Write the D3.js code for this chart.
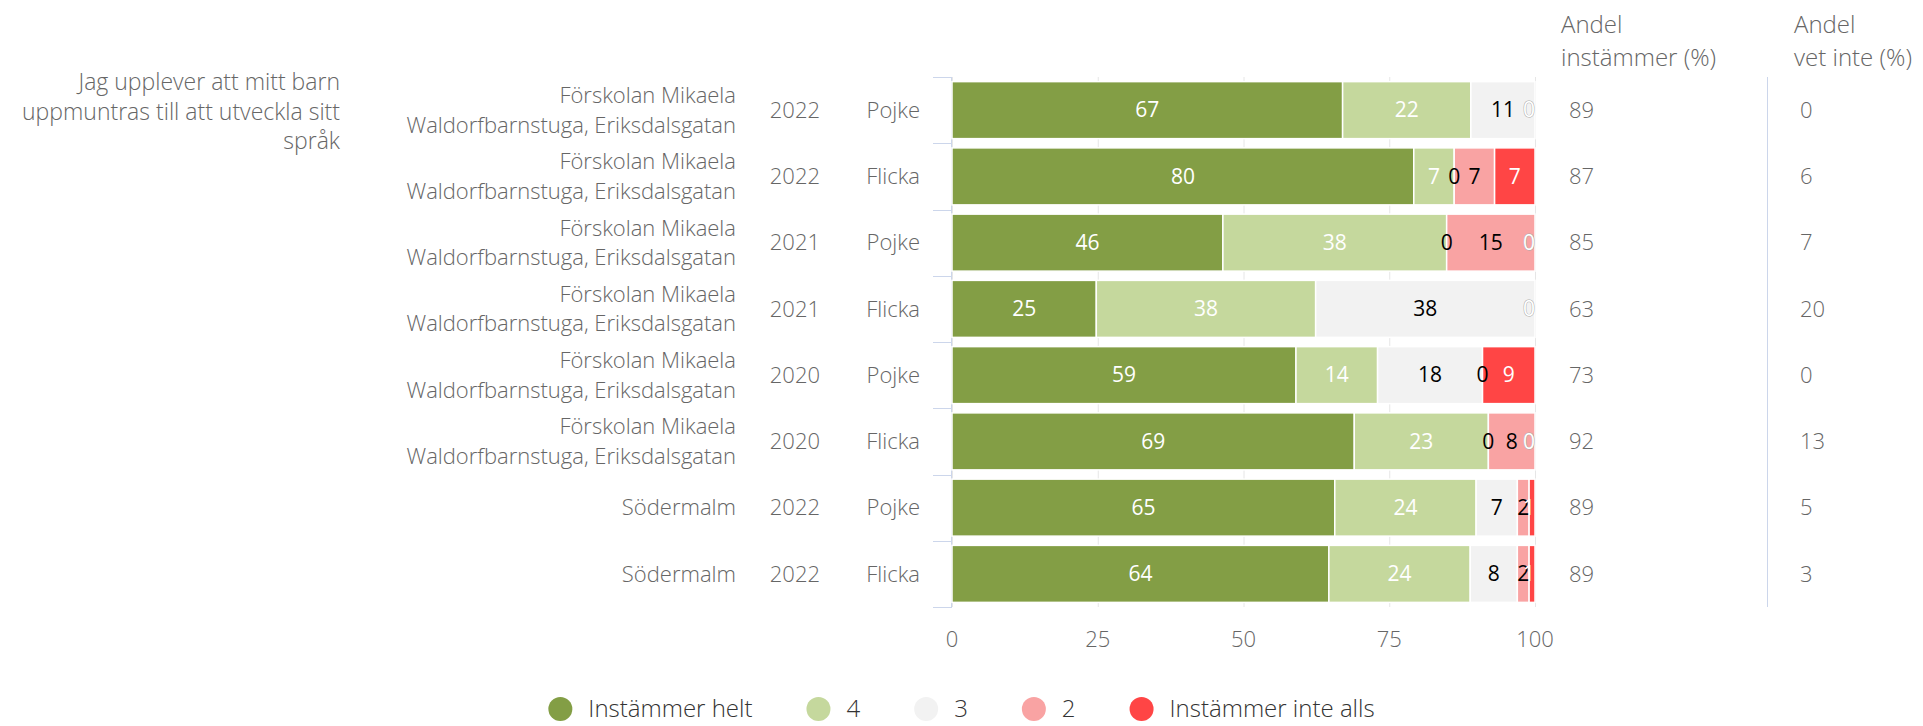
<!DOCTYPE html>
<html>
<head>
<meta charset="utf-8">
<script src="https://cdn.jsdelivr.net/npm/d3@7"></script>
<style>
  html, body { margin: 0; padding: 0; background: #fff; }
  svg { display: block; font-family: "Open Sans", Lato, sans-serif; font-weight: 300; }
</style>
</head>
<body>
<svg id="chart" width="1923" height="726"></svg>
<script>
// question + row labels
const question = ['Jag upplever att mitt barn', 'uppmuntras till att utveckla sitt', 'språk'];
const schools = [
  'Förskolan Mikaela\nWaldorfbarnstuga, Eriksdalsgatan',
  'Förskolan Mikaela\nWaldorfbarnstuga, Eriksdalsgatan',
  'Förskolan Mikaela\nWaldorfbarnstuga, Eriksdalsgatan',
  'Förskolan Mikaela\nWaldorfbarnstuga, Eriksdalsgatan',
  'Förskolan Mikaela\nWaldorfbarnstuga, Eriksdalsgatan',
  'Förskolan Mikaela\nWaldorfbarnstuga, Eriksdalsgatan',
  'Södermalm',
  'Södermalm'
];
const years = ['2022', '2022', '2021', '2021', '2020', '2020', '2022', '2022'];
const genders = ['Pojke', 'Flicka', 'Pojke', 'Flicka', 'Pojke', 'Flicka', 'Pojke', 'Flicka'];

// series (percent)
const seriesNames = ['Instämmer helt', '4', '3', '2', 'Instämmer inte alls'];
const seriesColors = ['#839e45', '#c5d89d', '#f2f2f2', '#f9a3a3', '#ff4545'];
const labelColors = ['#ffffff', '#ffffff', '#000000', '#000000', '#ffffff'];
const instammerHelt = [67, 80, 46, 25, 59, 69, 65, 64];
const fyra = [22, 7, 38, 38, 14, 23, 24, 24];
const tre = [11, 0, 0, 38, 18, 0, 7, 8];
const tva = [0, 7, 15, 0, 0, 8, 2, 2];
const instammerInteAlls = [0, 7, 0, 0, 9, 0, 1, 1];

// extra columns
const andelInstammer = [89, 87, 85, 63, 73, 92, 89, 89];
const andelVetInte = [0, 6, 7, 20, 0, 13, 5, 3];

const xTicks = [0, 25, 50, 75, 100];

const seriesValues = [instammerHelt, fyra, tre, tva, instammerInteAlls];
const rows = years.map((y, i) => {
  const r = { idx: i };
  seriesNames.forEach((s, k) => { r[s] = seriesValues[k][i]; });
  return r;
});

const svg = d3.select('#chart');
const margin = { top: 77, left: 952, right: 1923 - 1535, bottom: 726 - 607 };
const plotW = 1923 - margin.left - margin.right;
const plotH = 726 - margin.top - margin.bottom;

const x = d3.scaleLinear().domain([0, 1]).range([margin.left, margin.left + plotW]);
const y = d3.scaleBand().domain(d3.range(rows.length)).range([margin.top, margin.top + plotH]).padding(0);
const barH = 57;
const barOff = (y.bandwidth() - barH) / 2;

const stack = d3.stack().keys(seriesNames).offset(d3.stackOffsetExpand);
const stacked = stack(rows);

const grey = '#666666';
const fs = 22;

// gridlines
svg.append('g').attr('class', 'grid')
  .selectAll('line')
  .data(xTicks)
  .join('line')
  .attr('x1', d => x(d / 100) + 0.5)
  .attr('x2', d => x(d / 100) + 0.5)
  .attr('y1', margin.top)
  .attr('y2', margin.top + plotH)
  .attr('stroke', '#e6e6e6')
  .attr('stroke-width', 1);

// left axis line + ticks on band edges
const bounds = y.domain().map(d => y(d)).concat([margin.top + plotH]);
const yAxis = svg.append('g').attr('class', 'yAxis');
yAxis.append('line')
  .attr('x1', margin.left - 0.5).attr('x2', margin.left - 0.5)
  .attr('y1', margin.top).attr('y2', margin.top + plotH)
  .attr('stroke', '#ccd6eb');
yAxis.selectAll('line.tick')
  .data(bounds)
  .join('line')
  .attr('class', 'tick')
  .attr('x1', margin.left - 19).attr('x2', margin.left)
  .attr('y1', d => Math.round(d) + 0.5).attr('y2', d => Math.round(d) + 0.5)
  .attr('stroke', '#ccd6eb');

// bars
const layers = svg.append('g').attr('class', 'bars')
  .selectAll('g')
  .data(stacked)
  .join('g')
  .attr('fill', (d, i) => seriesColors[i]);

layers.selectAll('rect')
  .data(d => d)
  .join('rect')
  .attr('x', d => x(d[0]))
  .attr('y', d => y(d.data.idx) + barOff)
  .attr('width', d => Math.max(0, x(d[1]) - x(d[0])))
  .attr('height', barH)
  .attr('stroke', '#ffffff')
  .attr('stroke-width', 1.5);

// data labels (hide a label sitting on top of a later series label)
const labels = [];
stacked.forEach((layer, k) => {
  layer.forEach(d => {
    labels.push({ k, row: d.data.idx, value: d.data[seriesNames[k]], cx: (x(d[0]) + x(d[1])) / 2 });
  });
});
labels.forEach(l => {
  l.hidden = labels.some(o => o.row === l.row && o.k > l.k && Math.abs(o.cx - l.cx) < 8);
});

svg.append('g').attr('class', 'dataLabels')
  .selectAll('text')
  .data(labels.filter(l => !l.hidden))
  .join('text')
  .attr('x', d => Math.min(d.cx, margin.left + plotW - 6))
  .attr('y', d => y(d.row) + y.bandwidth() / 2)
  .attr('dy', '0.35em')
  .attr('text-anchor', 'middle')
  .attr('font-size', 21)
  .attr('font-weight', 400)
  .attr('fill', d => labelColors[d.k])
  .attr('stroke', d => (d.value === 0 && labelColors[d.k] === '#ffffff') ? '#aaaaaa' : 'none')
  .attr('stroke-width', 1)
  .attr('paint-order', 'stroke')
  .text(d => d.value);

// x axis labels
svg.append('g').attr('class', 'xAxis')
  .selectAll('text')
  .data(xTicks)
  .join('text')
  .attr('x', d => x(d / 100))
  .attr('y', 639)
  .attr('dy', '0.35em')
  .attr('text-anchor', 'middle')
  .attr('font-size', fs)
  .attr('fill', grey)
  .text(d => d);

// question text
svg.append('g').attr('class', 'question')
  .selectAll('text')
  .data(question)
  .join('text')
  .attr('x', 340)
  .attr('y', (d, i) => 82 + i * 29.5)
  .attr('dy', '0.35em')
  .attr('text-anchor', 'end')
  .attr('font-size', 23)
  .attr('fill', grey)
  .text(d => d);

// row category labels
const cats = svg.append('g').attr('class', 'categories');
schools.forEach((s, i) => {
  const lines = s.split('\n');
  const cy = y(i) + y.bandwidth() / 2;
  lines.forEach((line, j) => {
    cats.append('text')
      .attr('x', 736)
      .attr('y', cy + (j - (lines.length - 1) / 2) * 29.5)
      .attr('dy', '0.35em')
      .attr('text-anchor', 'end')
      .attr('font-size', fs)
      .attr('fill', grey)
      .text(line);
  });
});
cats.selectAll('text.year')
  .data(years)
  .join('text')
  .attr('class', 'year')
  .attr('x', 820)
  .attr('y', (d, i) => y(i) + y.bandwidth() / 2)
  .attr('dy', '0.35em')
  .attr('text-anchor', 'end')
  .attr('font-size', fs)
  .attr('fill', grey)
  .text(d => d);
cats.selectAll('text.gender')
  .data(genders)
  .join('text')
  .attr('class', 'gender')
  .attr('x', 920)
  .attr('y', (d, i) => y(i) + y.bandwidth() / 2)
  .attr('dy', '0.35em')
  .attr('text-anchor', 'end')
  .attr('font-size', fs)
  .attr('fill', grey)
  .text(d => d);

// extra columns on the right
const cols = [
  { header: ['Andel', 'instämmer (%)'], values: andelInstammer, hx: 1561, vx: 1569 },
  { header: ['Andel', 'vet inte (%)'], values: andelVetInte, hx: 1794, vx: 1800 }
];
svg.append('line')
  .attr('x1', 1767.5).attr('x2', 1767.5)
  .attr('y1', margin.top).attr('y2', margin.top + plotH)
  .attr('stroke', '#ccd6eb');
cols.forEach(c => {
  const g = svg.append('g').attr('class', 'column');
  g.selectAll('text.header')
    .data(c.header)
    .join('text')
    .attr('class', 'header')
    .attr('x', c.hx)
    .attr('y', (d, i) => 25 + i * 33)
    .attr('dy', '0.35em')
    .attr('font-size', 24)
    .attr('fill', grey)
    .text(d => d);
  g.selectAll('text.value')
    .data(c.values)
    .join('text')
    .attr('class', 'value')
    .attr('x', c.vx)
    .attr('y', (d, i) => y(i) + y.bandwidth() / 2)
    .attr('dy', '0.35em')
    .attr('font-size', fs)
    .attr('fill', grey)
    .text(d => d);
});

// legend
const legend = svg.append('g').attr('class', 'legend');
let lx = 0;
seriesNames.forEach((name, i) => {
  const item = legend.append('g').attr('transform', `translate(${lx},0)`);
  item.append('circle')
    .attr('cx', 12).attr('cy', 0).attr('r', 12)
    .attr('fill', seriesColors[i]);
  const t = item.append('text')
    .attr('x', 40)
    .attr('dy', '0.35em')
    .attr('font-size', 24)
    .attr('fill', '#333333')
    .text(name);
  lx += 40 + t.node().getComputedTextLength() + 54;
});
lx -= 54;
legend.attr('transform', `translate(${(1923 - lx) / 2},709)`);
</script>
</body>
</html>
